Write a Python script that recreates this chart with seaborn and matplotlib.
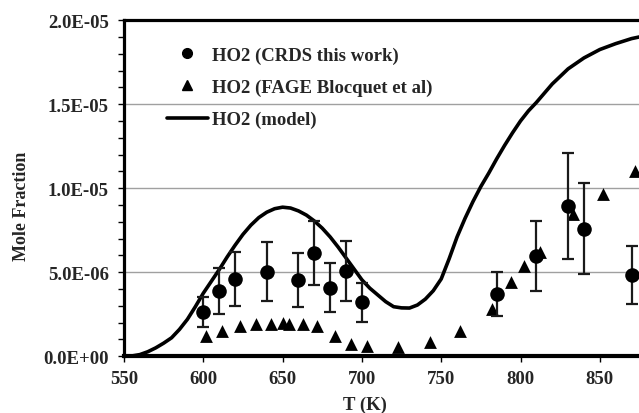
import matplotlib
matplotlib.use("Agg")
import numpy as np
import pandas as pd
import matplotlib.pyplot as plt
import seaborn as sns
from matplotlib.lines import Line2D
from matplotlib.ticker import MultipleLocator, FuncFormatter

# --- data ---
crds_T = [600, 610, 620, 640, 660, 670, 680, 690, 700, 785, 810, 830, 840, 870]
crds_x = [2.62e-6, 3.89e-6, 4.62e-6, 5.02e-6, 4.54e-6, 6.13e-6, 4.09e-6, 5.08e-6,
          3.20e-6, 3.69e-6, 5.97e-6, 8.95e-6, 7.60e-6, 4.84e-6]
crds_err = [0.90e-6, 1.35e-6, 1.60e-6, 1.75e-6, 1.60e-6, 1.90e-6, 1.45e-6, 1.80e-6,
            1.15e-6, 1.30e-6, 2.10e-6, 3.15e-6, 2.70e-6, 1.72e-6]

fage_T = [602, 612, 623, 633, 643, 650, 654, 663, 672, 683, 693, 703,
          723, 743, 762, 782, 794, 802, 812, 833, 852, 872]
fage_x = [1.19e-6, 1.52e-6, 1.79e-6, 1.92e-6, 1.92e-6, 1.98e-6, 1.92e-6, 1.92e-6,
          1.82e-6, 1.23e-6, 0.73e-6, 0.63e-6, 0.54e-6, 0.87e-6, 1.52e-6, 2.82e-6,
          4.44e-6, 5.39e-6, 6.19e-6, 8.47e-6, 9.66e-6, 11.05e-6]

model_T = [550, 555, 560, 565, 570, 575, 580, 585, 590, 595, 600, 605, 610, 615,
           620, 625, 630, 635, 640, 645, 650, 655, 660, 665, 670, 675, 680, 685,
           690, 695, 700, 705, 710, 715, 720, 725, 730, 735, 740, 745, 750, 755,
           760, 765, 770, 775, 780, 785, 790, 795, 800, 805, 810, 815, 820, 830,
           840, 850, 860, 870, 880]
model_x = [0.0, 0.02e-6, 0.1e-6, 0.27e-6, 0.5e-6, 0.78e-6, 1.1e-6, 1.6e-6, 2.2e-6,
           2.95e-6, 3.75e-6, 4.45e-6, 5.15e-6, 5.9e-6, 6.6e-6, 7.25e-6, 7.8e-6,
           8.25e-6, 8.57e-6, 8.78e-6, 8.87e-6, 8.82e-6, 8.65e-6, 8.4e-6, 8.05e-6,
           7.62e-6, 7.1e-6, 6.5e-6, 5.85e-6, 5.2e-6, 4.55e-6, 4.05e-6, 3.65e-6,
           3.25e-6, 2.95e-6, 2.88e-6, 2.87e-6, 3.05e-6, 3.4e-6, 3.9e-6, 4.6e-6,
           5.8e-6, 7.1e-6, 8.2e-6, 9.2e-6, 10.1e-6, 10.9e-6, 11.75e-6, 12.55e-6,
           13.3e-6, 14.0e-6, 14.6e-6, 15.1e-6, 15.65e-6, 16.2e-6, 17.1e-6,
           17.75e-6, 18.25e-6, 18.6e-6, 18.9e-6, 19.1e-6]

crds = pd.DataFrame({"T": crds_T, "x": crds_x, "err": crds_err})
fage = pd.DataFrame({"T": fage_T, "x": fage_x})
model = pd.DataFrame({"T": model_T, "x": model_x})

sns.set_style("white")
plt.rcParams["font.family"] = ["Liberation Serif", "DejaVu Serif"]
plt.rcParams["font.weight"] = "bold"

fig = plt.figure(figsize=(6.39, 4.14), dpi=100)
ax = fig.add_axes([0.194, 0.137, 0.806, 0.812])

ax.yaxis.grid(True, color="#a0a0a0", linewidth=1.0)
ax.set_axisbelow(True)

sns.lineplot(data=model, x="T", y="x", color="black", linewidth=2.6, ax=ax,
             zorder=3, solid_joinstyle="round", solid_capstyle="round")
sns.scatterplot(data=fage, x="T", y="x", marker="^", s=85, color="black",
                edgecolor="black", linewidth=0, ax=ax, zorder=4)
ax.errorbar(crds["T"], crds["x"], yerr=crds["err"], fmt="none", ecolor="#1a1a1a",
            elinewidth=1.6, capsize=4.5, capthick=1.6, zorder=4)
sns.scatterplot(data=crds, x="T", y="x", marker="o", s=110, color="black",
                edgecolor="black", linewidth=0, ax=ax, zorder=5)

ax.set_xlim(550, 874.7)
ax.set_ylim(0, 2.0e-5)
ax.xaxis.set_major_locator(MultipleLocator(50))
ax.yaxis.set_major_locator(MultipleLocator(5e-6))
ax.yaxis.set_minor_locator(MultipleLocator(1e-6))
ax.yaxis.set_major_formatter(FuncFormatter(lambda v, p: f"{v:.1E}"))

ax.tick_params(axis="y", which="both", direction="out", length=4, width=1,
               left=True, color="black", labelsize=13.5, pad=7)
ax.tick_params(axis="x", which="major", direction="out", length=4, width=1,
               bottom=True, color="black", labelsize=13.5, pad=6)

for side in ["left", "top"]:
    ax.spines[side].set_linewidth(2.3)
    ax.spines[side].set_color("black")
ax.spines["bottom"].set_linewidth(3)
ax.spines["bottom"].set_color("black")
ax.spines["right"].set_visible(False)

ax.set_xlabel("T (K)", fontsize=13.5, fontweight="bold")
ax.set_ylabel("Mole Fraction", fontsize=13, fontweight="bold")
ax.xaxis.set_label_coords(0.468, -0.118)
ax.yaxis.set_label_coords(-0.183, 0.45)

handles = [
    Line2D([], [], marker="o", linestyle="none", color="black", markersize=7),
    Line2D([], [], marker="^", linestyle="none", color="black", markersize=7),
    Line2D([], [], color="black", linewidth=2.6),
]
labels = ["HO2 (CRDS this work)", "HO2 (FAGE Blocquet et al)", "HO2 (model)"]
ax.legend(handles, labels, loc="upper left", bbox_to_anchor=(0.083, 0.922),
          frameon=False, fontsize=13.5, handlelength=2.2, handletextpad=0.2,
          labelspacing=0.8, borderpad=0, borderaxespad=0)

fig.savefig("out.png", dpi=100)
